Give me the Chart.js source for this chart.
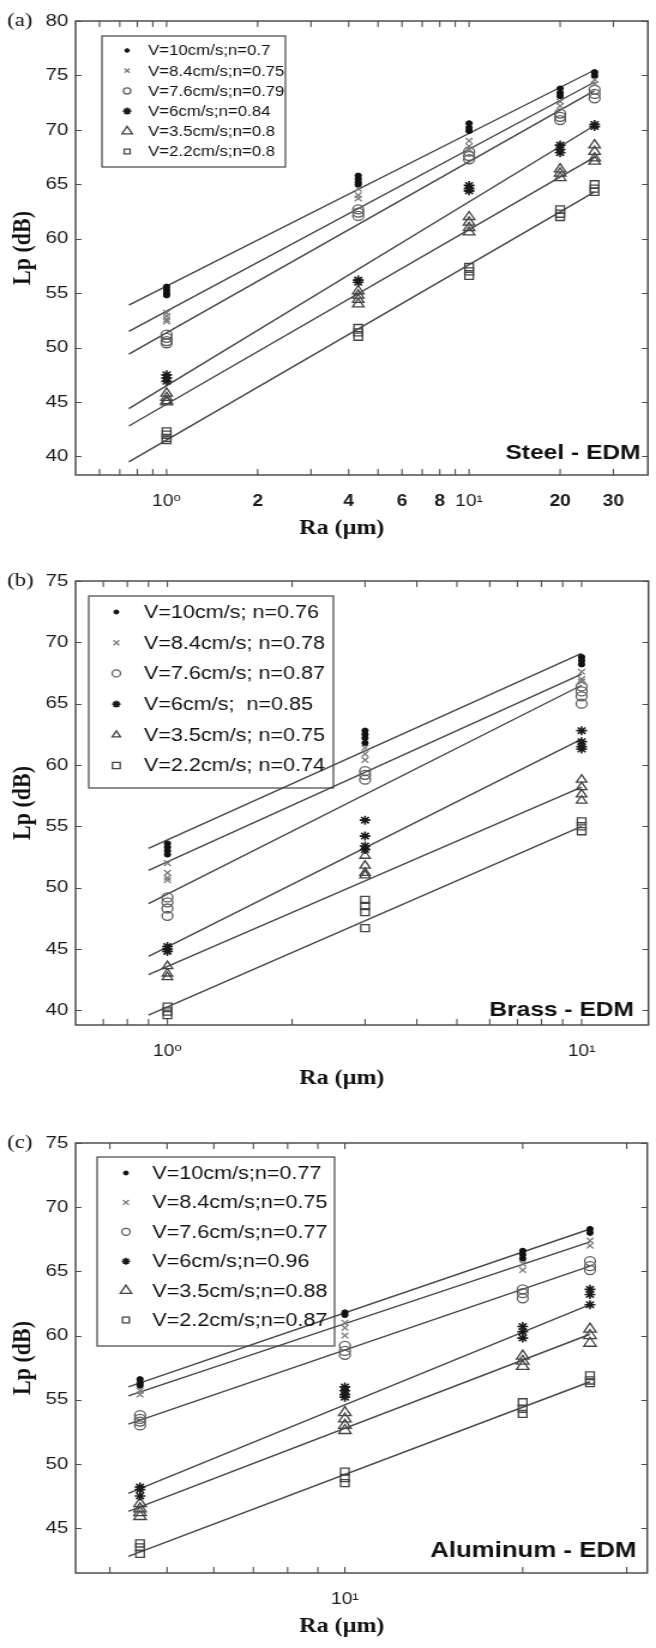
<!DOCTYPE html>
<html>
<head>
<meta charset="utf-8">
<script src="https://cdn.jsdelivr.net/npm/chart.js@4.4.1/dist/chart.umd.min.js"></script>
<style>
  html, body { margin: 0; padding: 0; background: #fff; }
  #page { position: relative; width: 656px; height: 1648px; }
  /* the source figure is stretched sideways; draw at 547 wide, show at 656 */
  canvas { position: absolute; left: 0; }
</style>
</head>
<body>
<div id="page">
  <canvas id="steelChart" width="547" height="548" style="top:0px;width:656px;height:548px"></canvas>
  <canvas id="brassChart" width="547" height="552" style="top:548px;width:656px;height:552px"></canvas>
  <canvas id="aluminumChart" width="547" height="548" style="top:1100px;width:656px;height:548px"></canvas>
</div>
<script>
// ---- data ----

// (a) Steel - EDM
const steelRa = [1, 4.3, 10, 20, 26];
const steelLabels = ["V=10cm/s;n=0.7", "V=8.4cm/s;n=0.75", "V=7.6cm/s;n=0.79",
                     "V=6cm/s;n=0.84", "V=3.5cm/s;n=0.8", "V=2.2cm/s;n=0.8"];
const steelLp = [
    [[55.6, 55.3, 55.0, 54.8], [65.8, 65.5, 65.2, 65.0], [70.6, 70.2, 69.9], [73.8, 73.4, 73.1], [75.3, 75.0]],
    [[53.2, 52.9, 52.6, 52.4], [64.6, 64.0, 63.7], [69.0, 68.5, 68.2], [72.6, 72.2], [74.6, 74.2]],
    [[51.2, 50.9, 50.6, 50.4], [62.7, 62.4, 62.1], [68.0, 67.6, 67.3], [71.5, 71.2, 70.9], [73.7, 73.3, 72.9]],
    [[47.5, 47.2, 46.9], [56.2, 56.0], [64.9, 64.6, 64.4], [68.6, 68.2, 67.9], [70.5, 70.3]],
    [[45.8, 45.4, 45.1, 45.0], [55.2, 54.8, 54.4, 54.0], [62.0, 61.5, 61.0, 60.6], [66.4, 66.0, 65.6], [68.6, 68.0, 67.4, 67.1]],
    [[42.3, 42.0, 41.7, 41.5], [51.8, 51.4, 51.0], [57.4, 57.0, 56.6], [62.7, 62.3, 62.0], [65.0, 64.6, 64.3]]
];
const steelFitRa = [0.75, 26];
const steelFitLp = [[53.9, 75.5], [51.5, 74.4], [49.4, 73.6], [44.4, 70.4], [42.8, 67.5], [39.5, 64.3]];
const steelRaTicks = [1, 2, 4, 6, 8, 10, 20, 30];
const steelRaMinor = [0.6, 0.7, 0.8, 0.9, 1, 2, 3, 4, 5, 6, 7, 8, 9, 10, 20, 30];
const steelLpTicks = [40, 45, 50, 55, 60, 65, 70, 75, 80];

// (b) Brass - EDM
const brassRa = [1, 3, 10];
const brassLabels = ["V=10cm/s; n=0.76", "V=8.4cm/s; n=0.78", "V=7.6cm/s; n=0.87",
                     "V=6cm/s;  n=0.85", "V=3.5cm/s; n=0.75", "V=2.2cm/s; n=0.74"];
const brassLp = [
    [[53.6, 53.3, 53.0, 52.7], [62.8, 62.5, 62.2, 61.8], [68.8, 68.5, 68.2]],
    [[52.0, 51.2, 50.8, 50.6], [61.4, 60.9, 60.4], [67.6, 67.0, 66.8]],
    [[49.2, 48.8, 48.3, 47.7], [59.5, 59.2, 58.8], [66.4, 66.0, 65.6, 65.0]],
    [[45.2, 45.0, 44.8], [55.5, 54.2, 53.4, 53.1], [62.8, 61.9, 61.5, 61.3]],
    [[43.6, 43.0, 42.7], [52.6, 51.8, 51.2, 51.0], [58.8, 58.2, 57.6, 57.1]],
    [[40.3, 39.9, 39.6], [49.0, 48.5, 48.0, 46.7], [55.4, 55.0, 54.6]]
];
const brassFitRa = [0.9, 10];
const brassFitLp = [[53.2, 69.1], [51.4, 67.4], [48.7, 66.5], [44.4, 62.1], [42.9, 58.2], [39.6, 55.0]];
const brassRaTicks = [1, 10];
const brassRaMinor = [0.7, 0.8, 0.9, 1, 2, 3, 4, 5, 6, 7, 8, 9, 10];
const brassLpTicks = [40, 45, 50, 55, 60, 65, 70, 75];

// (c) Aluminum - EDM
const aluRa = [4.5, 10, 20, 26];
const aluLabels = ["V=10cm/s;n=0.77", "V=8.4cm/s;n=0.75", "V=7.6cm/s;n=0.77",
                   "V=6cm/s;n=0.96", "V=3.5cm/s;n=0.88", "V=2.2cm/s;n=0.87"];
const aluLp = [
    [[56.6, 56.3, 56.1], [61.8, 61.6], [66.6, 66.3, 66.0], [68.3, 68.0]],
    [[55.7, 55.4], [61.0, 60.6, 60.0], [65.6, 65.1], [67.4, 67.0]],
    [[53.8, 53.5, 53.3, 53.0], [59.2, 58.8, 58.5], [63.6, 63.3, 62.9], [65.8, 65.4, 65.1]],
    [[48.2, 48.0, 47.5], [56.0, 55.7, 55.4, 55.2], [60.7, 60.3, 59.8], [63.6, 63.2, 62.4]],
    [[46.9, 46.5, 46.2, 45.9], [54.0, 53.5, 53.0, 52.6], [58.4, 58.0, 57.6], [60.5, 60.0, 59.4]],
    [[43.8, 43.5, 43.0], [49.4, 48.9, 48.5], [54.8, 54.3, 53.9], [56.9, 56.5, 56.3]]
];
const aluFitRa = [4.3, 26];
const aluFitLp = [[56.0, 68.3], [55.3, 67.3], [53.1, 65.4], [47.7, 62.4], [46.3, 60.1], [42.8, 56.4]];
const aluRaTicks = [10];
const aluRaMinor = [4, 5, 6, 7, 8, 9, 10, 20, 30];
const aluLpTicks = [45, 50, 55, 60, 65, 70, 75];

// ---- styles ----

const markerStyles = [
    {pointStyle: "circle",   color: "#111",    fill: "#111",          width: 1},
    {pointStyle: "crossRot", color: "#7a7a7a", fill: "rgba(0,0,0,0)", width: 1.3},
    {pointStyle: "circle",   color: "#5e5e5e", fill: "rgba(0,0,0,0)", width: 1.3},
    {pointStyle: "star",     color: "#1a1a1a", fill: "#1a1a1a",       width: 1.6},
    {pointStyle: "triangle", color: "#444",    fill: "rgba(0,0,0,0)", width: 1.3},
    {pointStyle: "rect",     color: "#444",    fill: "rgba(0,0,0,0)", width: 1.3}
];

const SANS = '"Liberation Sans", Arial, "DejaVu Sans", sans-serif';
const SERIF = '"Liberation Serif", "Times New Roman", serif';

// frame, inward ticks, panel letter, x title, material name and boxed legend
const framePlugin = {
    id: "frame",
    afterDraw(chart, args, opts) {
        const ctx = chart.ctx;
        const {left, right, top, bottom} = chart.chartArea;
        const x = chart.scales.x;
        const y = chart.scales.y;

        ctx.save();

        ctx.strokeStyle = "#4d4d4d";
        ctx.lineWidth = 1.1;
        ctx.beginPath();
        opts.minorX.forEach(v => {
            const px = x.getPixelForValue(v);
            ctx.moveTo(px, bottom); ctx.lineTo(px, bottom - 6);
            ctx.moveTo(px, top); ctx.lineTo(px, top + 6);
        });
        y.ticks.forEach(t => {
            const py = Math.round(y.getPixelForValue(t.value)) + 0.5;
            ctx.moveTo(left, py); ctx.lineTo(left + 5, py);
            ctx.moveTo(right, py); ctx.lineTo(right - 5, py);
        });
        ctx.stroke();

        ctx.lineWidth = 1.5;
        ctx.strokeRect(left, top, right - left, bottom - top);

        ctx.fillStyle = "#111";
        ctx.textBaseline = "middle";

        ctx.font = "bold 20px " + SERIF;
        ctx.textAlign = "center";
        ctx.fillText("Ra (\u00b5m)", 285, bottom + 54);

        ctx.font = "bold " + opts.materialSize + "px " + SANS;
        ctx.textAlign = "right";
        ctx.fillText(opts.material, right - opts.materialGap, y.getPixelForValue(opts.materialAt));

        ctx.font = "19px " + SERIF;
        ctx.textAlign = "left";
        ctx.fillText(opts.letter, 6, top);

        const lg = opts.legend;
        ctx.strokeStyle = "#444";
        ctx.lineWidth = 1.2;
        ctx.strokeRect(lg.x, lg.y, lg.w, lg.h);
        ctx.font = lg.size + "px " + SANS;
        chart.data.datasets.filter(d => !d.showLine).forEach((d, i) => {
            const cy = lg.y + lg.first + i * lg.row;
            ctx.strokeStyle = d.pointBorderColor;
            ctx.fillStyle = d.pointBackgroundColor;
            ctx.lineWidth = d.pointBorderWidth;
            Chart.helpers.drawPoint(ctx, {
                pointStyle: d.pointStyle,
                radius: lg.radius[i],
                rotation: 0,
                borderWidth: d.pointBorderWidth
            }, lg.x + lg.markerDx, cy);
            ctx.fillStyle = "#111";
            ctx.fillText(d.label, lg.x + lg.textDx, cy + 1);
        });

        ctx.restore();
    }
};

function makeChart(id, p) {

    const datasets = [];

    p.lp.forEach((series, i) => {
        const m = markerStyles[i];
        datasets.push({
            label: p.labels[i],
            data: series.flatMap((cluster, j) => cluster.map(v => ({x: p.ra[j], y: v}))),
            showLine: false,
            pointStyle: m.pointStyle,
            pointRadius: p.radius[i],
            pointBorderColor: m.color,
            pointBackgroundColor: m.fill,
            pointBorderWidth: m.width
        });
    });

    p.fitLp.forEach(ends => {
        datasets.push({
            label: "",
            data: p.fitRa.map((r, k) => ({x: r, y: ends[k]})),
            showLine: true,
            pointRadius: 0,
            borderColor: "#474747",
            borderWidth: 1.4,
            fill: false
        });
    });

    return new Chart(document.getElementById(id), {
        type: "scatter",
        data: {datasets},
        options: {
            responsive: false,
            animation: false,
            devicePixelRatio: 1,
            layout: {padding: {top: p.padTop, right: 2, left: 0, bottom: 0}},
            plugins: {
                legend: {display: false},
                tooltip: {enabled: false},
                frame: {
                    minorX: p.raMinor,
                    material: p.material,
                    materialAt: p.materialAt,
                    materialGap: p.materialGap,
                    materialSize: p.materialSize,
                    letter: p.letter,
                    legend: p.legend
                }
            },
            scales: {
                x: {
                    type: "logarithmic",
                    min: p.raMin,
                    max: p.raMax,
                    afterBuildTicks: s => { s.ticks = p.raTicks.map(v => ({value: v})); },
                    afterFit: s => { s.height = p.xAxisH; },
                    grid: {display: false, drawTicks: false},
                    border: {display: false},
                    ticks: {
                        autoSkip: false,
                        maxRotation: 0,
                        padding: 17,
                        color: "#1a1a1a",
                        font: c => ({
                            family: SANS,
                            size: 16,
                            weight: (c.tick && (c.tick.value === 1 || c.tick.value === 10)) ? "normal" : "bold"
                        }),
                        callback: v => v === 1 ? "10\u2070" : v === 10 ? "10\u00b9" : String(v)
                    },
                    title: {display: false}
                },
                y: {
                    type: "linear",
                    min: p.lpMin,
                    max: p.lpMax,
                    afterBuildTicks: s => { s.ticks = p.lpTicks.map(v => ({value: v})); },
                    afterFit: s => { s.width = 63; },
                    grid: {display: false, drawTicks: false},
                    border: {display: false},
                    ticks: {
                        padding: 6,
                        color: "#1a1a1a",
                        font: {family: SANS, size: 17}
                    },
                    title: {
                        display: true,
                        text: "Lp (dB)",
                        color: "#111",
                        font: {family: SERIF, size: 22, weight: "bold"},
                        padding: {top: 6, bottom: 0}
                    }
                }
            }
        },
        plugins: [framePlugin]
    });
}

makeChart("steelChart", {
    ra: steelRa, lp: steelLp, labels: steelLabels,
    fitRa: steelFitRa, fitLp: steelFitLp,
    raTicks: steelRaTicks, raMinor: steelRaMinor, lpTicks: steelLpTicks,
    raMin: 0.5, raMax: 39, lpMin: 38.3, lpMax: 80,
    radius: [2.6, 4, 4.5, 4.5, 5.5, 5],
    padTop: 21, xAxisH: 73,
    letter: "(a)", material: "Steel - EDM", materialAt: 40.3, materialGap: 6, materialSize: 20.5,
    legend: {x: 85, y: 36, w: 153, h: 131, first: 14.5, row: 20.2, markerDx: 21, textDx: 38.5, size: 14,
             radius: [1.8, 3, 3, 3.5, 5, 3.5]}
});

makeChart("brassChart", {
    ra: brassRa, lp: brassLp, labels: brassLabels,
    fitRa: brassFitRa, fitLp: brassFitLp,
    raTicks: brassRaTicks, raMinor: brassRaMinor, lpTicks: brassLpTicks,
    raMin: 0.6, raMax: 14.5, lpMin: 38.8, lpMax: 75,
    radius: [2.6, 4, 4.5, 4.5, 5, 5],
    padTop: 33, xAxisH: 75,
    letter: "(b)", material: "Brass - EDM", materialAt: 40, materialGap: 12, materialSize: 20.5,
    legend: {x: 74, y: 48, w: 204, h: 192, first: 16, row: 30.7, markerDx: 23, textDx: 46, size: 18,
             radius: [2, 3.5, 3.5, 3.5, 4, 4.5]}
});

makeChart("aluminumChart", {
    ra: aluRa, lp: aluLp, labels: aluLabels,
    fitRa: aluFitRa, fitLp: aluFitLp,
    raTicks: aluRaTicks, raMinor: aluRaMinor, lpTicks: aluLpTicks,
    raMin: 3.5, raMax: 32.5, lpMin: 41.5, lpMax: 75,
    radius: [2.6, 4, 4.5, 4.5, 6, 5],
    padTop: 43, xAxisH: 75,
    letter: "(c)", material: "Aluminum - EDM", materialAt: 43.2, materialGap: 9, materialSize: 21.5,
    legend: {x: 81, y: 57, w: 198, h: 189, first: 16, row: 29.4, markerDx: 24, textDx: 46, size: 18,
             radius: [2, 3.5, 3.5, 3.5, 5.5, 4]}
});
</script>
</body>
</html>
